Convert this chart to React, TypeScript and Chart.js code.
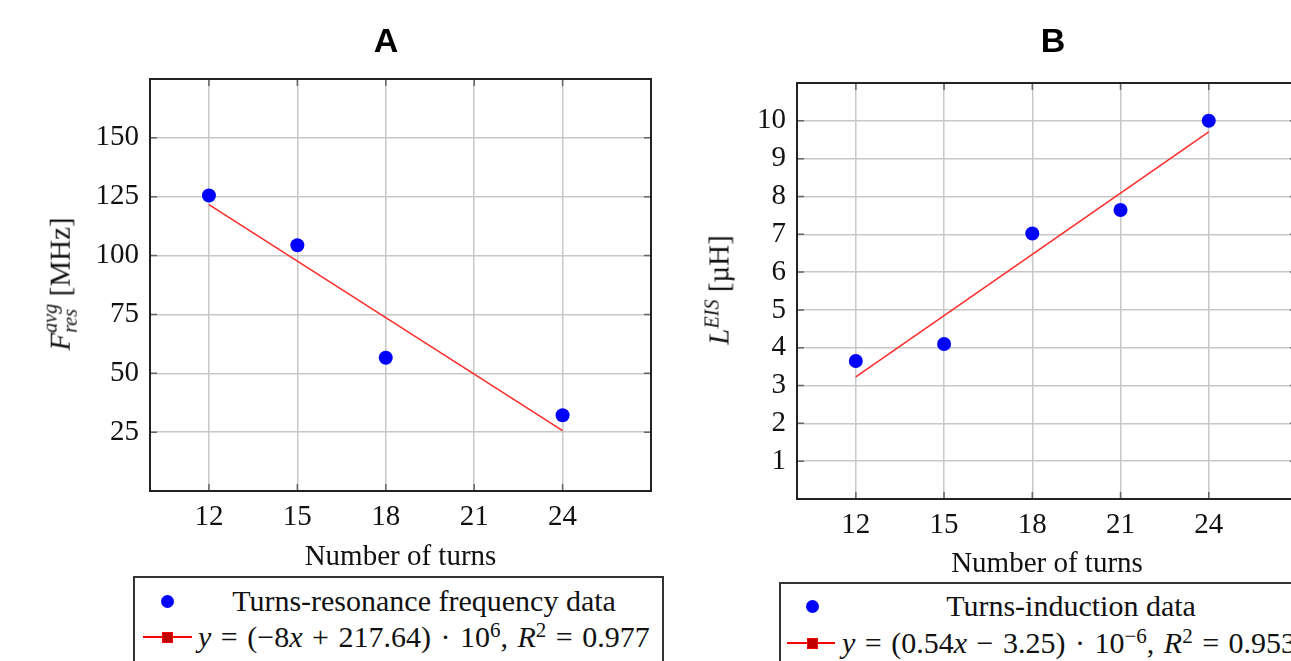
import React, { useEffect, useRef } from "react";
import { Chart, registerables } from "chart.js";

Chart.register(...registerables);

// ---------- data ----------
const xTicks = [12, 15, 18, 21, 24];

const turnsA = [12, 15, 18, 24];
const freqA = [125.5, 104.4, 56.6, 32.2];
const fitTurnsA = [12, 24];
const fitFreqA = [121.64, 25.64];
const yTicksA = [25, 50, 75, 100, 125, 150];

const turnsB = [12, 15, 18, 21, 24];
const inductB = [3.65, 4.1, 7.02, 7.64, 10.0];
const fitTurnsB = [12, 24];
const fitInductB = [3.23, 9.71];
const yTicksB = [1, 2, 3, 4, 5, 6, 7, 8, 9, 10];

const SERIF = '"Liberation Serif", "Times New Roman", serif';
const SANS = '"Liberation Sans", Arial, sans-serif';

const framePlugin = {
  id: "frame",
  beforeDatasetsDraw(chart: any) {
    const { ctx, chartArea } = chart;
    const { left, right, top, bottom } = chartArea;
    const xs = chart.scales.x;
    const ys = chart.scales.y;
    const len = 7;
    ctx.save();
    ctx.strokeStyle = "#666";
    ctx.lineWidth = 1.5;
    ctx.beginPath();
    for (const t of xs.ticks) {
      const px = xs.getPixelForValue(t.value);
      ctx.moveTo(px, bottom);
      ctx.lineTo(px, bottom - len);
      ctx.moveTo(px, top);
      ctx.lineTo(px, top + len);
    }
    for (const t of ys.ticks) {
      const py = ys.getPixelForValue(t.value);
      ctx.moveTo(left, py);
      ctx.lineTo(left + len, py);
      ctx.moveTo(right, py);
      ctx.lineTo(right - len, py);
    }
    ctx.stroke();
    ctx.strokeStyle = "#222";
    ctx.lineWidth = 2;
    ctx.strokeRect(left, top, right - left, bottom - top);
    ctx.restore();
  },
};

type Cfg = {
  xs: number[];
  ys: number[];
  fitX: number[];
  fitY: number[];
  yTicks: number[];
  yMin: number;
  yMax: number;
  padTop: number;
  padRight: number;
  yWidth: number;
  xHeight: number;
};

function makeConfig(c: Cfg): any {
  const tickFont = { family: SERIF, size: 29 };
  return {
    type: "scatter",
    data: {
      datasets: [
        {
          label: "data",
          data: c.xs.map((x, i) => ({ x, y: c.ys[i] })),
          pointRadius: 7,
          pointHoverRadius: 7,
          backgroundColor: "#0000ff",
          borderWidth: 0,
          order: 0,
        },
        {
          label: "fit",
          data: c.fitX.map((x, i) => ({ x, y: c.fitY[i] })),
          showLine: true,
          borderColor: "#ff2a2a",
          borderWidth: 1.5,
          pointRadius: 0,
          order: 1,
        },
      ],
    },
    options: {
      animation: false,
      responsive: false,
      events: [],
      layout: { padding: { left: 0, right: c.padRight, top: c.padTop, bottom: 0 } },
      plugins: {
        legend: { display: false },
        tooltip: { enabled: false },
        title: { display: false },
      },
      scales: {
        x: {
          type: "linear",
          min: 10,
          max: 27,
          afterBuildTicks: (s: any) => {
            s.ticks = xTicks.map((v) => ({ value: v }));
          },
          afterFit: (s: any) => {
            s.height = c.xHeight;
          },
          grid: { color: "#c8c8c8", lineWidth: 1.5, drawTicks: false },
          border: { display: false },
          ticks: { font: tickFont, color: "#111", padding: 9, maxRotation: 0 },
          title: {
            display: true,
            text: "Number of turns",
            color: "#111",
            font: { family: SERIF, size: 29, lineHeight: 1.2 },
            padding: { top: 0, bottom: 0 },
          },
        },
        y: {
          type: "linear",
          min: c.yMin,
          max: c.yMax,
          afterBuildTicks: (s: any) => {
            s.ticks = c.yTicks.map((v) => ({ value: v }));
          },
          afterFit: (s: any) => {
            s.width = c.yWidth;
          },
          grid: { color: "#c8c8c8", lineWidth: 1.5, drawTicks: false },
          border: { display: false },
          ticks: { font: tickFont, color: "#111", padding: 11 },
        },
      },
    },
    plugins: [framePlugin],
  };
}

function ChartCanvas(props: { cfg: Cfg; left: number; width: number; height: number }) {
  const ref = useRef<HTMLCanvasElement | null>(null);
  useEffect(() => {
    if (!ref.current) return;
    const chart = new Chart(ref.current, makeConfig(props.cfg));
    return () => chart.destroy();
  }, []);
  return (
    <canvas
      ref={ref}
      width={props.width}
      height={props.height}
      style={{ position: "absolute", left: props.left, top: 0, width: props.width, height: props.height }}
    />
  );
}

const sup = (t: string, italic = false) => (
  <span style={{ fontSize: "0.7em", position: "relative", top: "-0.5em", fontStyle: italic ? "italic" : "normal" }}>{t}</span>
);

function Legend(props: {
  left: number;
  top: number;
  width: number;
  row1: number;
  row2: number;
  markerX: number;
  lineFrom: number;
  lineTo: number;
  textLeft: number;
  textWidth: number;
  label1: React.ReactNode;
  label2: React.ReactNode;
}) {
  const b = 2;
  const lh = 34;
  return (
    <div
      style={{
        position: "absolute",
        left: props.left,
        top: props.top,
        width: props.width,
        height: 140,
        border: `${b}px solid #333`,
        boxSizing: "border-box",
        background: "#fff",
        fontFamily: SERIF,
        fontSize: 30,
        color: "#111",
      }}
    >
      <div
        style={{
          position: "absolute",
          left: props.markerX - 6.5 - b,
          top: props.row1 - 6.5 - b,
          width: 13,
          height: 13,
          borderRadius: "50%",
          background: "#0000ff",
        }}
      />
      <div
        style={{
          position: "absolute",
          left: props.textLeft - b,
          top: props.row1 - lh / 2 - b,
          width: props.textWidth,
          lineHeight: lh + "px",
          textAlign: "center",
          whiteSpace: "nowrap",
        }}
      >
        {props.label1}
      </div>
      <div
        style={{
          position: "absolute",
          left: props.lineFrom - b,
          top: props.row2 - 0.75 - b,
          width: props.lineTo - props.lineFrom,
          height: 1.5,
          background: "#ff0000",
        }}
      />
      <div
        style={{
          position: "absolute",
          left: props.markerX - 5.5 - b,
          top: props.row2 - 5.5 - b,
          width: 11,
          height: 11,
          boxSizing: "border-box",
          background: "#c00000",
          border: "1px solid #ff0000",
        }}
      />
      <div
        style={{
          position: "absolute",
          left: props.textLeft - b,
          top: props.row2 - lh / 2 - b,
          width: props.textWidth,
          lineHeight: lh + "px",
          textAlign: "left",
          whiteSpace: "nowrap",
          wordSpacing: "2px",
        }}
      >
        {props.label2}
      </div>
    </div>
  );
}

function YLabel(props: { cx: number; cy: number; children: React.ReactNode }) {
  return (
    <div
      style={{
        position: "absolute",
        left: props.cx,
        top: props.cy,
        transform: "translate(-50%, -50%) rotate(-90deg)",
        whiteSpace: "nowrap",
        fontFamily: SERIF,
        fontSize: 29,
        lineHeight: "34px",
        color: "#111",
      }}
    >
      {props.children}
    </div>
  );
}

function Title(props: { cx: number; text: string }) {
  return (
    <div
      style={{
        position: "absolute",
        left: props.cx - 50,
        top: 23,
        width: 100,
        textAlign: "center",
        fontFamily: SANS,
        fontWeight: "bold",
        fontSize: 34,
        lineHeight: "34px",
        color: "#000",
      }}
    >
      {props.text}
    </div>
  );
}

const cfgA: Cfg = {
  xs: turnsA,
  ys: freqA,
  fitX: fitTurnsA,
  fitY: fitFreqA,
  yTicks: yTicksA,
  yMin: 0,
  yMax: 175,
  padTop: 79,
  padRight: 49,
  yWidth: 150,
  xHeight: 84,
};

const cfgB: Cfg = {
  xs: turnsB,
  ys: inductB,
  fitX: fitTurnsB,
  fitY: fitInductB,
  yTicks: yTicksB,
  yMin: 0,
  yMax: 11,
  padTop: 83,
  padRight: 23,
  yWidth: 97,
  xHeight: 83,
};

export default function App() {
  return (
    <div
      style={{
        position: "absolute",
        left: 0,
        top: 0,
        width: 1291,
        height: 661,
        overflow: "hidden",
        background: "#fff",
      }}
    >
      <ChartCanvas cfg={cfgA} left={0} width={700} height={575} />
      <ChartCanvas cfg={cfgB} left={700} width={620} height={582} />

      <Title cx={386} text="A" />
      <Title cx={1053} text="B" />

      <YLabel cx={60} cy={284}>
        <i>F</i>
        <span
          style={{
            display: "inline-flex",
            flexDirection: "column",
            fontSize: "0.7em",
            lineHeight: 1,
            fontStyle: "italic",
            verticalAlign: "0.64em",
          }}
        >
          <span>avg</span>
          <span>res</span>
        </span>{" "}
        [MHz]
      </YLabel>
      <YLabel cx={720} cy={290}>
        <i>L</i>
        {sup("EIS", true)} [µH]
      </YLabel>

      <Legend
        left={133}
        top={576}
        width={531}
        row1={25}
        row2={61}
        markerX={34}
        lineFrom={10}
        lineTo={59}
        textLeft={65}
        textWidth={452}
        label1={<span>Turns-resonance frequency data</span>}
        label2={
          <span>
            <i>y</i> = (−8<i>x</i> + 217.64) · 10{sup("6")}, <i>R</i>
            {sup("2")} = 0.977
          </span>
        }
      />
      <Legend
        left={779}
        top={582}
        width={560}
        row1={24}
        row2={61}
        markerX={33}
        lineFrom={8}
        lineTo={56}
        textLeft={63}
        textWidth={458}
        label1={<span>Turns-induction data</span>}
        label2={
          <span>
            <i>y</i> = (0.54<i>x</i> − 3.25) · 10{sup("−6")}, <i>R</i>
            {sup("2")} = 0.953
          </span>
        }
      />
    </div>
  );
}
